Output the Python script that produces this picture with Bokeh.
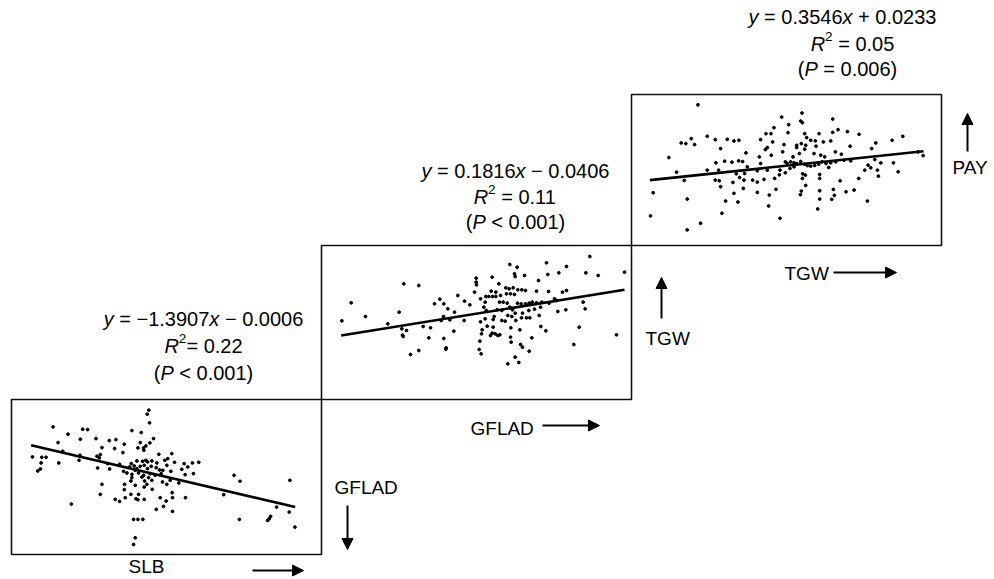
from bokeh.plotting import figure
from bokeh.models import Range1d, Label, Arrow, NormalHead
from bokeh.embed import file_html
from bokeh.resources import INLINE

# ---------------- data (arbitrary units) ----------------
# Panel 1: SLB (x) vs GFLAD (y); y grows downward in these read-off units
p1_points = [(446,60),(441,72),(448,98),(158,110),(247,117),(262,118),(395,121),(423,127),(203,132),
 (240,147),(287,145),(327,151),(347,148),(460,145),(449,158),(173,157),(372,162),(420,157),
 (413,173),(430,173),(437,167),(305,172),(343,175),(187,183),(368,187),(431,180),
 (96,200),(124,201),(137,201),(239,195),(290,198),(300,193),(476,192),(515,190),(503,205),(297,203),
 (122,218),(175,218),(236,210),(322,220),(358,222),(393,220),(410,212),(427,213),(437,210),(442,215),
 (455,212),(470,218),(494,210),(523,216),(552,220),(577,218),(596,216),(500,225),
 (120,236),(112,242),(292,233),(328,236),(370,243),(388,230),(402,227),(410,235),(420,228),(432,225),
 (442,235),(453,228),(468,232),(478,239),(488,240),(405,240),(545,237),(563,230),
 (380,248),(395,252),(415,248),(430,255),(450,250),(465,255),(483,250),(512,243),(395,262),(425,260),
 (445,262),(555,253),(580,250),(702,255),(720,273),(870,270),
 (392,272),(433,272),(455,270),(487,275),(510,270),(536,278),(305,282),(373,282),(405,285),(440,282),
 (500,282),(432,290),(372,298),(300,312),(392,312),(415,312),(456,297),(516,307),(480,322),(375,322),
 (345,327),(358,333),(407,325),(413,328),(432,327),(517,322),(556,322),(498,332),(671,313),
 (213,341),(490,348),(468,357),(517,363),(830,350),(868,365),
 (400,387),(413,387),(428,387),(718,387),(812,378),(808,385),(803,390),(885,410),(405,442),(400,462)]
p1_x = [a for a, b in p1_points]
p1_y = [b for a, b in p1_points]
p1_fit_x = [92, 886]
p1_fit_y = [165, 350]
p1_xlim = [33, 965]
p1_ylim = [492, 28]   # bottom, top

# Panel 2: GFLAD (x) vs TGW (y)
p2_points = [(838,48),(598,72),(620,80),(708,67),(768,78),(497,113),(545,110),(612,100),(614,108),(642,105),
 (712,102),(745,97),(826,97),(863,105),(942,95),(280,130),(325,135),(497,125),(498,133),(565,130),
 (586,142),(596,145),(608,142),(622,148),(634,148),(645,150),(684,120),(588,160),(600,160),(542,152),
 (556,155),(526,168),(535,168),(546,168),(556,168),(570,165),(612,162),(678,152),(714,153),(756,155),
 (768,150),(122,187),(388,176),(372,190),(400,190),(442,165),(462,182),(478,193),(492,155),(510,175),
 (524,185),(567,185),(578,185),(590,188),(621,188),(632,190),(645,190),(656,188),(665,185),(678,187),
 (694,185),(716,188),(732,175),(738,180),(818,185),(412,205),(432,215),(266,215),(520,200),(527,210),
 (560,208),(574,210),(598,200),(606,208),(614,218),(636,218),(655,210),(672,206),(690,200),(742,213),
 (766,208),(824,205),(94,241),(165,228),(232,250),(399,228),(418,238),(392,240),(461,240),(510,244),
 (524,235),(548,237),(551,228),(574,240),(584,242),(592,225),(604,228),(616,240),(633,232),(648,232),
 (658,232),(686,225),(274,265),(288,270),(338,258),(360,262),(430,272),(515,268),(530,257),(548,260),
 (545,278),(562,285),(601,262),(628,268),(691,258),(706,271),(806,260),(276,284),(278,288),(355,292),
 (400,294),(513,280),(540,285),(554,280),(568,283),(600,290),(664,292),(918,283),(508,302),(602,305),
 (630,312),(636,320),(790,312),(407,322),(300,342),(325,330),(406,326),(506,327),(512,340),(656,332),
 (614,350),(592,370),(625,366)]
p2_x = [a for a, b in p2_points]
p2_y = [b for a, b in p2_points]
p2_fit_x = [92, 942]
p2_fit_y = [285, 148]
p2_xlim = [33, 963]
p2_ylim = [477, 15]

# Panel 3: TGW (x) vs PAY (y)
p3_points = [(232,43),(544,68),(483,80),(540,92),(545,97),(636,86),(504,103),(460,112),(652,118),(680,124),
 (436,130),(451,130),(502,127),(552,130),(595,130),(636,126),(715,132),(846,138),(260,138),(212,145),
 (284,148),(320,147),(340,152),(355,150),(420,148),(558,142),(584,152),(608,155),(630,152),(570,150),
 (182,158),(196,160),(222,163),(456,155),(490,163),(528,165),(542,160),(555,165),(765,158),(814,150),
 (300,175),(376,188),(440,172),(434,178),(528,172),(552,177),(586,168),(600,195),(688,168),(753,175),
 (145,202),(416,200),(452,195),(486,185),(517,200),(536,190),(580,190),(612,200),(644,185),(662,192),
 (670,210),(762,208),(780,218),(818,218),(892,185),(907,196),(286,218),(312,213),(334,216),(354,212),
 (366,214),(420,220),(380,230),(494,215),(500,220),(510,215),(520,218),(528,220),(540,214),(552,222),
 (560,226),(570,228),(582,226),(594,222),(604,215),(616,220),(630,218),(645,215),(690,212),(742,225),
 (750,233),(168,246),(260,240),(294,240),(410,242),(372,250),(347,251),(440,240),(478,240),(494,248),
 (508,235),(520,230),(546,251),(554,255),(597,253),(624,232),(732,240),(770,240),(773,258),(832,245),
 (191,271),(284,270),(296,272),(300,290),(337,277),(357,262),(370,270),(396,270),(410,276),(430,268),
 (462,265),(476,254),(545,265),(597,265),(658,272),(714,265),(98,308),(340,310),(368,295),(410,307),
 (466,298),(446,315),(542,303),(539,314),(555,286),(597,302),(638,298),(641,316),(676,305),(700,300),
 (200,327),(315,333),(352,336),(597,327),(633,328),(740,333),(444,348),(591,357),(304,370),(90,378),
 (478,385),(240,400),(200,420)]
p3_x = [a for a, b in p3_points]
p3_y = [b for a, b in p3_points]
p3_fit_x = [88, 908]
p3_fit_y = [270, 183]
p3_xlim = [33, 962]
p3_ylim = [467, 12]

# ---------------- layout ----------------
W, H = 994, 579
X0, X1 = 0, W
Y0, Y1 = 0, H
FONT = "Liberation Sans"

p = figure(width=W, height=H, output_backend="svg", toolbar_location=None,
           x_axis_type=None, y_axis_type=None,
           x_range=Range1d(X0, X1), y_range=Range1d(Y1, Y0),
           min_border=0, min_border_left=0, min_border_right=0,
           min_border_top=0, min_border_bottom=0)
p.outline_line_color = None
p.xgrid.visible = False
p.ygrid.visible = False
p.background_fill_color = "white"
p.border_fill_color = "white"

# panel boxes on the page: left, right, top, bottom (page px)
boxes = {
    "p1": (11, 321, 399, 554),
    "p2": (321, 631, 245, 399),
    "p3": (631, 941, 94, 245),
}
panels = {
    "p1": (p1_x, p1_y, p1_fit_x, p1_fit_y, p1_xlim, p1_ylim),
    "p2": (p2_x, p2_y, p2_fit_x, p2_fit_y, p2_xlim, p2_ylim),
    "p3": (p3_x, p3_y, p3_fit_x, p3_fit_y, p3_xlim, p3_ylim),
}

for name, (xs, ys, fx, fy, xlim, ylim) in panels.items():
    bl, br, bt, bb = boxes[name]
    sx = (xlim[1] - xlim[0]) / (br - bl)
    p.extra_x_ranges[name + "x"] = Range1d(xlim[0] + (X0 - bl) * sx, xlim[0] + (X1 - bl) * sx)
    sy = (ylim[1] - ylim[0]) / (bt - bb)
    p.extra_y_ranges[name + "y"] = Range1d(ylim[0] + (Y1 - bb) * sy, ylim[0] + (Y0 - bb) * sy)
    kw = dict(x_range_name=name + "x", y_range_name=name + "y")
    p.quad(left=[xlim[0]], right=[xlim[1]], top=[ylim[1]], bottom=[ylim[0]],
           fill_color=None, line_color="#111111", line_width=1.6, **kw)
    p.scatter(xs, ys, marker="circle", size=2.8, fill_color="black", line_color="black", **kw)
    p.line(fx, fy, line_color="black", line_width=2.6, **kw)

# ---------------- text helpers ----------------
AW = {" ": 278, ".": 278, "=": 584, "+": 584, "\u2212": 584, "<": 584, "(": 333, ")": 333,
      "y": 500, "x": 500, "R": 722, "P": 667}
for d in "0123456789":
    AW[d] = 556


def tw(s, size):
    return sum(AW.get(c, 556) for c in s) * size / 1000.0


def eq_line(cx, cy, segs, size=20):
    sup = size * 0.68
    total = sum(tw(t, sup if st == "s" else size) for t, st in segs)
    x = cx - total / 2.0
    base = cy
    for t, st in segs:
        fs = sup if st == "s" else size
        y = base - 0.36 * size if st == "s" else base
        core = t.strip(" ")
        lead = len(t) - len(t.lstrip(" "))
        p.add_layout(Label(x=x + tw(" " * lead, fs), y=y, text=core, text_font=FONT,
                           text_font_size=f"{fs:.1f}px",
                           text_font_style="italic" if st == "i" else "normal",
                           text_align="left", text_baseline="alphabetic", text_color="black"))
        x += tw(t, fs)


def lab(x, y, t, align="left", size=19):
    p.add_layout(Label(x=x, y=y, text=t, text_font=FONT, text_font_size=f"{size}px",
                       text_align=align, text_baseline="middle", text_color="black"))


def arrow(xs, ys, xe, ye):
    p.add_layout(Arrow(end=NormalHead(size=11, fill_color="black", line_color="black"),
                       x_start=xs, y_start=ys, x_end=xe, y_end=ye,
                       line_width=2, line_color="black"))


# equations
eq_line(203, 318, [("y", "i"), (" = \u22121.3907", "n"), ("x", "i"), (" \u2212 0.0006", "n")])
eq_line(203, 345, [("R", "i"), ("2", "s"), ("= 0.22", "n")])
eq_line(203, 372, [("(", "n"), ("P", "i"), (" < 0.001)", "n")])

eq_line(515, 170, [("y", "i"), (" = 0.1816", "n"), ("x", "i"), (" \u2212 0.0406", "n")])
eq_line(515, 196, [("R", "i"), ("2", "s"), (" = 0.11", "n")])
eq_line(515, 221, [("(", "n"), ("P", "i"), (" < 0.001)", "n")])

eq_line(842, 16, [("y", "i"), (" = 0.3546", "n"), ("x", "i"), (" + 0.0233", "n")])
eq_line(852, 43, [("R", "i"), ("2", "s"), (" = 0.05", "n")])
eq_line(847, 68, [("(", "n"), ("P", "i"), (" = 0.006)", "n")])

# variable labels and arrows
lab(146, 566, "SLB", align="center")
arrow(252, 570, 303, 570)

lab(334, 487, "GFLAD")
arrow(347, 505, 347, 549)

lab(470, 428, "GFLAD")
arrow(542, 425, 599, 425)

lab(645, 338, "TGW")
arrow(661, 318, 661, 277)

lab(784, 273, "TGW")
arrow(833, 272, 896, 272)

lab(952, 167, "PAY")
arrow(967, 151, 967, 113)

open("out.html", "w").write(file_html(p, INLINE))
